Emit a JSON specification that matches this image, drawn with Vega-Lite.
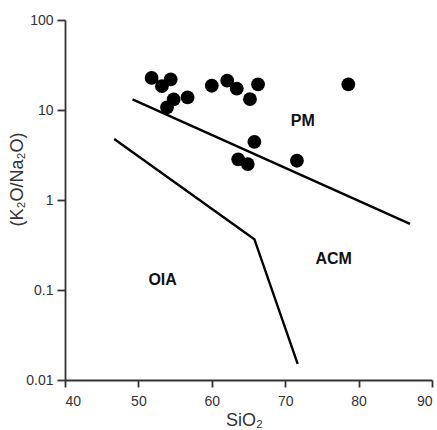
{
  "$schema": "https://vega.github.io/schema/vega-lite/v6.json",
  "autosize": "none",
  "padding": {"left": 65, "top": 20, "right": 5, "bottom": 50},
  "width": 367,
  "height": 360,
  "background": "white",
  "config": {
    "view": {"stroke": null},
    "font": "Liberation Sans",
    "axis": {
      "grid": false,
      "domainColor": "#333",
      "domainWidth": 1.8,
      "tickColor": "#333",
      "tickWidth": 1.8,
      "tickSize": 7,
      "labelColor": "#333",
      "labelFont": "Liberation Sans",
      "labelFontSize": 14,
      "titleFont": "Liberation Sans",
      "titleFontWeight": "normal",
      "titleColor": "#333",
      "titleFontSize": 18
    }
  },
  "datasets": {
    "pts": [
      {"sio2": 51.8, "ratio": 22.7},
      {"sio2": 53.2, "ratio": 18.4},
      {"sio2": 54.4, "ratio": 21.9},
      {"sio2": 54.8, "ratio": 13.1},
      {"sio2": 53.9, "ratio": 10.7},
      {"sio2": 56.7, "ratio": 13.8},
      {"sio2": 60.0, "ratio": 18.6},
      {"sio2": 62.1, "ratio": 21.2},
      {"sio2": 63.4, "ratio": 17.3},
      {"sio2": 66.3, "ratio": 19.3},
      {"sio2": 65.2, "ratio": 13.2},
      {"sio2": 78.6, "ratio": 19.3},
      {"sio2": 65.8, "ratio": 4.43},
      {"sio2": 63.6, "ratio": 2.83},
      {"sio2": 64.9, "ratio": 2.51},
      {"sio2": 71.6, "ratio": 2.73}
    ],
    "lines": [
      {"line": "upper", "ord": 1, "sio2": 49.2, "ratio": 13.1},
      {"line": "upper", "ord": 2, "sio2": 87.0, "ratio": 0.542},
      {"line": "lower", "ord": 1, "sio2": 46.7, "ratio": 4.75},
      {"line": "lower", "ord": 2, "sio2": 65.8, "ratio": 0.367},
      {"line": "lower", "ord": 3, "sio2": 71.7, "ratio": 0.0151}
    ],
    "labels": [
      {"name": "PM", "sio2": 72.4, "ratio": 7.5},
      {"name": "ACM", "sio2": 76.6, "ratio": 0.22},
      {"name": "OIA", "sio2": 53.3, "ratio": 0.13}
    ]
  },
  "layer": [
    {
      "data": {"name": "lines"},
      "mark": {"type": "line", "color": "black", "strokeWidth": 2.4, "clip": true},
      "encoding": {
        "x": {
          "field": "sio2", "type": "quantitative",
          "scale": {"domain": [40, 90], "nice": false, "zero": false},
          "axis": {
            "values": [40, 50, 60, 70, 80, 90],
            "labelPadding": 7,
            "title": "SiO₂",
            "titleX": 179,
            "titleY": 40,
            "titleBaseline": "middle",
            "titleAlign": "center"
          }
        },
        "y": {
          "field": "ratio", "type": "quantitative",
          "scale": {"type": "log", "domain": [0.01, 100], "nice": false},
          "axis": {
            "values": [0.01, 0.1, 1, 10, 100],
            "labelExpr": "'' + datum.value",
            "tickSize": 8,
            "labelPadding": 4,
            "title": "(K₂O/Na₂O)",
            "titleAngle": -90,
            "titleX": -48,
            "titleY": 159,
            "titleAlign": "center",
            "titleBaseline": "middle"
          }
        },
        "detail": {"field": "line"},
        "order": {"field": "ord"}
      }
    },
    {
      "data": {"name": "pts"},
      "mark": {"type": "circle", "color": "black", "opacity": 1, "size": 190},
      "encoding": {
        "x": {"field": "sio2", "type": "quantitative"},
        "y": {"field": "ratio", "type": "quantitative"}
      }
    },
    {
      "data": {"name": "labels"},
      "mark": {"type": "text", "fontWeight": "bold", "fontSize": 16, "color": "#111", "font": "Liberation Sans"},
      "encoding": {
        "x": {"field": "sio2", "type": "quantitative"},
        "y": {"field": "ratio", "type": "quantitative"},
        "text": {"field": "name"}
      }
    }
  ]
}
